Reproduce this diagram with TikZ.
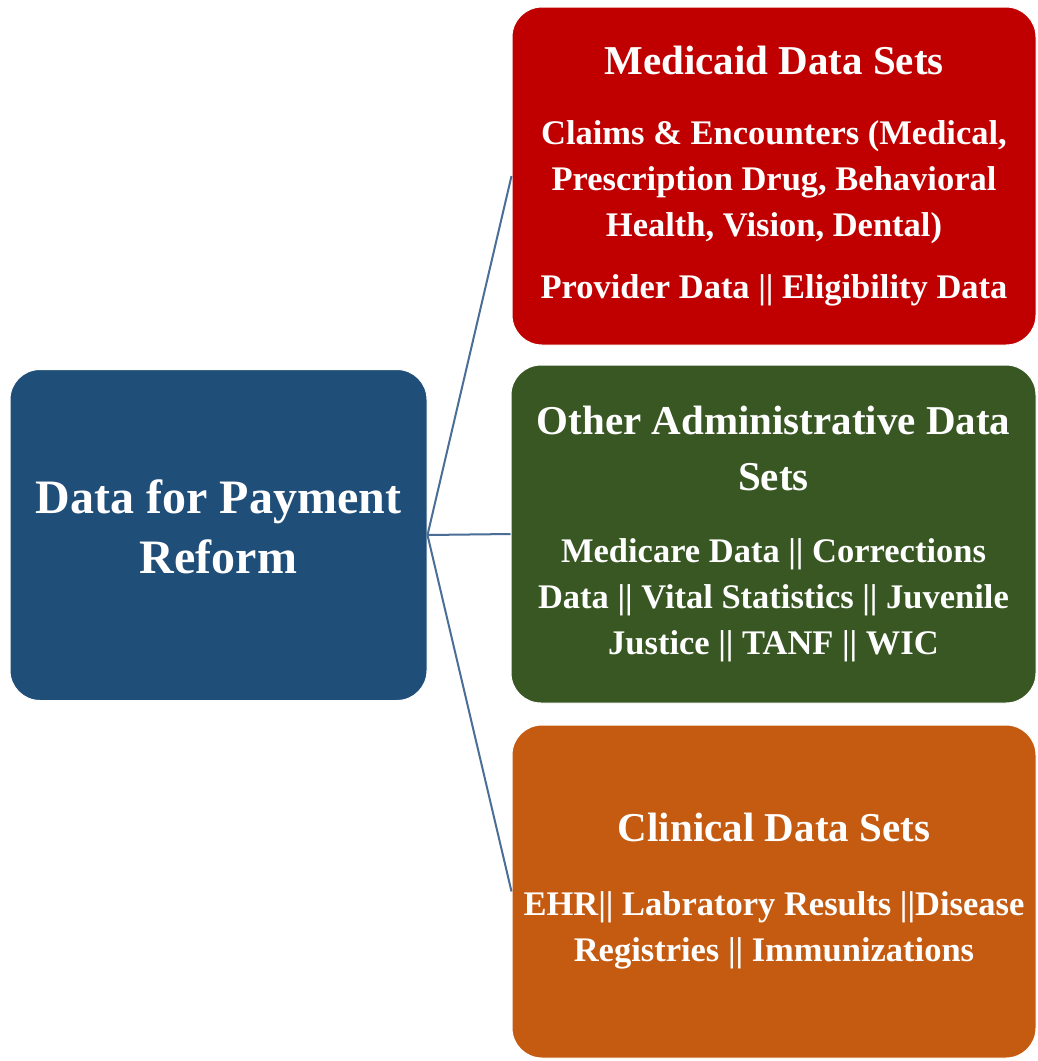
\documentclass[tikz,border=0pt]{standalone}
\usepackage{fontspec}
\setmainfont{Liberation Serif}
\definecolor{cblue}{HTML}{1F4E79}
\definecolor{cred}{HTML}{C00000}
\definecolor{cgreen}{HTML}{385723}
\definecolor{corange}{HTML}{C55A11}
\definecolor{cline}{HTML}{4A6E96}
\newcommand{\titlef}{\fontsize{41}{56}\selectfont\bfseries}
\newcommand{\bodyf}{\fontsize{34.5}{46}\selectfont\bfseries}
\newcommand{\mainf}{\fontsize{48}{60}\selectfont\bfseries}
\tikzset{
  databox/.style={rectangle, rounded corners=30pt, draw=white, line width=1pt,
    text=white, align=center, inner sep=0pt},
  conn/.style={draw=cline, line width=2pt}
}
\begin{document}
\begin{tikzpicture}[x=1pt,y=-1pt]
\useasboundingbox[fill=white] (0,0) rectangle (1038,1061);
\node[databox, fill=cblue, minimum width=417pt, minimum height=331pt, font=\mainf]
  (main) at (218.5,535) {Data for Payment\\Reform\rule[-16pt]{0pt}{0pt}};
\node[databox, fill=cred, minimum width=524pt, minimum height=338pt, font=\bodyf]
  (medicaid) at (774,176)
  {\titlef Medicaid Data Sets\\[24pt]
   Claims \& Encounters (Medical,\\
   Prescription Drug, Behavioral\\
   Health, Vision, Dental)\\[16pt]
   Provider Data || Eligibility Data};
\node[databox, fill=cgreen, minimum width=525pt, minimum height=338pt, font=\bodyf]
  (admin) at (773.5,534)
  {\titlef Other Administrative Data\\[10pt]
   \titlef Sets\\[26pt]
   Medicare Data || Corrections\\
   Data || Vital Statistics || Juvenile\\
   Justice || TANF || WIC};
\node[databox, fill=corange, minimum width=524pt, minimum height=333pt, font=\bodyf]
  (clinical) at (774,891.5)
  {\titlef Clinical Data Sets\\[28pt]
   EHR|| Labratory Results ||Disease\\
   Registries || Immunizations};
\draw[conn] (main.east) -- (medicaid.west);
\draw[conn] (main.east) -- (admin.west);
\draw[conn] (main.east) -- (clinical.west);
\end{tikzpicture}
\end{document}
